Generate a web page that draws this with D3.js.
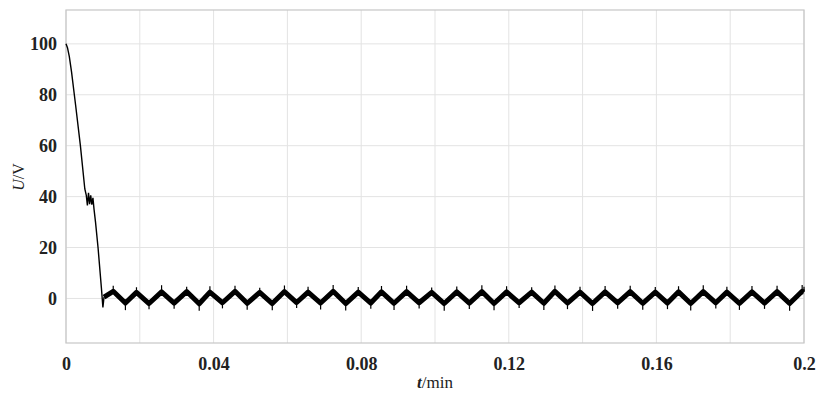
<!DOCTYPE html>
<html>
<head>
<meta charset="utf-8">
<script src="https://cdn.jsdelivr.net/npm/d3@7"></script>
<style>
  body { margin: 0; background: #fff; }
  svg { display: block; }
</style>
</head>
<body>
<div id="chart"></div>
<script>
// start-up drop of the voltage
const decayT = [0, 0.0004, 0.0009, 0.0015, 0.0026, 0.0039, 0.0051, 0.0055, 0.0058, 0.0061, 0.0064, 0.0067, 0.0070, 0.0073, 0.0076, 0.0080, 0.0087, 0.0096, 0.0100, 0.0103];
const decayU = [100, 98.5, 95, 89, 76, 60, 43, 40.5, 36.5, 41.5, 37, 40.5, 36.8, 39.5, 35, 30, 19.7, 4, -3.5, 0.5];

// ripple after the drop: alternating peaks and troughs
const oscT = [0.0128, 0.0161, 0.0191, 0.0225, 0.0259, 0.0293, 0.0327, 0.0361, 0.0390, 0.0424, 0.0458, 0.0491,
  0.0525, 0.0559, 0.0592, 0.0625, 0.0656, 0.0690, 0.0724, 0.0758, 0.0792, 0.0826, 0.0855, 0.0889,
  0.0923, 0.0957, 0.0991, 0.1025, 0.1059, 0.1093, 0.1127, 0.1160, 0.1194, 0.1228, 0.1262, 0.1295,
  0.1325, 0.1359, 0.1393, 0.1427, 0.1461, 0.1495, 0.1529, 0.1563, 0.1597, 0.1630, 0.1660, 0.1693,
  0.1727, 0.1761, 0.1791, 0.1825, 0.1859, 0.1893, 0.1927, 0.1961, 0.1995, 0.2];
const oscU = [2.8, -1.8, 2.4, -2.0, 2.6, -1.8, 2.7, -2.1, 2.5, -1.7, 2.8, -1.9,
  2.4, -2.0, 2.7, -1.6, 2.5, -1.8, 2.8, -2.0, 2.5, -1.8, 2.6, -1.9,
  2.7, -1.7, 2.4, -2.0, 2.6, -1.8, 2.7, -2.0, 2.6, -1.7, 2.5, -1.9,
  2.8, -1.8, 2.5, -2.0, 2.6, -1.7, 2.7, -1.9, 2.5, -1.8, 2.6, -2.0,
  2.7, -1.7, 2.5, -1.9, 2.6, -1.8, 2.7, -2.0, 2.8, 2.5];
// noise spikes at each vertex (extreme value reached)
const oscExt = [5.0, -4.6, 4.4, -4.2, 5.2, -4.0, 4.6, -4.8, 4.8, -3.9, 5.0, -4.4,
  4.2, -4.6, 5.1, -3.8, 4.6, -4.3, 5.3, -4.7, 4.5, -4.0, 4.9, -4.5,
  5.0, -3.9, 4.3, -4.8, 4.7, -4.1, 5.2, -4.6, 4.8, -3.8, 4.4, -4.5,
  5.1, -4.2, 4.6, -4.9, 4.9, -4.0, 5.0, -4.4, 4.5, -4.2, 4.8, -4.7,
  5.2, -3.9, 4.6, -4.5, 4.9, -4.1, 5.0, -4.8, 5.3, 4.6];

const xTicks = [0, 0.04, 0.08, 0.12, 0.16, 0.2];
const xGrid = [0, 0.02, 0.04, 0.06, 0.08, 0.1, 0.12, 0.14, 0.16, 0.18, 0.2];
const yTicks = [0, 20, 40, 60, 80, 100];

const W = 816, H = 398;
const margin = { top: 10, right: 12, bottom: 55, left: 66 };
const serif = "'Liberation Serif', 'Times New Roman', serif";

const svg = d3.select("#chart").append("svg")
  .attr("width", W)
  .attr("height", H);

const x = d3.scaleLinear().domain([0, 0.2]).range([margin.left, W - margin.right]);
const y = d3.scaleLinear().domain([-17.5, 113.3]).range([H - margin.bottom, margin.top]);

// grid
svg.append("g")
  .selectAll("line")
  .data(xGrid)
  .join("line")
  .attr("x1", d => x(d)).attr("x2", d => x(d))
  .attr("y1", y.range()[0]).attr("y2", y.range()[1])
  .attr("stroke", "#e3e3e3").attr("stroke-width", 1);

svg.append("g")
  .selectAll("line")
  .data(yTicks)
  .join("line")
  .attr("x1", x.range()[0]).attr("x2", x.range()[1])
  .attr("y1", d => y(d)).attr("y2", d => y(d))
  .attr("stroke", "#e3e3e3").attr("stroke-width", 1);

// frame
svg.append("rect")
  .attr("x", x.range()[0]).attr("y", y.range()[1])
  .attr("width", x.range()[1] - x.range()[0])
  .attr("height", y.range()[0] - y.range()[1])
  .attr("fill", "none").attr("stroke", "#c6c6c6").attr("stroke-width", 1.2);

// axes (labels only, no tick lines)
const xAxis = svg.append("g")
  .attr("transform", `translate(0,${y.range()[0]})`)
  .call(d3.axisBottom(x).tickValues(xTicks).tickSize(0).tickPadding(14)
    .tickFormat(d => d === 0 ? "0" : d3.format("~g")(d)));
const yAxis = svg.append("g")
  .attr("transform", `translate(${x.range()[0]},0)`)
  .call(d3.axisLeft(y).tickValues(yTicks).tickSize(0).tickPadding(9));

[xAxis, yAxis].forEach(g => {
  g.select(".domain").remove();
  g.selectAll("text")
    .attr("font-family", serif)
    .attr("font-size", 18)
    .attr("font-weight", "bold")
    .attr("fill", "#222");
});

// titles
const xTitle = svg.append("text")
  .attr("x", (x.range()[0] + x.range()[1]) / 2)
  .attr("y", 388)
  .attr("text-anchor", "middle")
  .attr("font-family", serif)
  .attr("font-size", 17)
  .attr("fill", "#222");
xTitle.append("tspan").attr("font-style", "italic").attr("font-weight", "bold").text("t");
xTitle.append("tspan").text("/min");

const yTitle = svg.append("text")
  .attr("transform", "translate(24,177) rotate(-90)")
  .attr("text-anchor", "middle")
  .attr("font-family", serif)
  .attr("font-size", 16)
  .attr("fill", "#222");
yTitle.append("tspan").attr("font-style", "italic").text("U");
yTitle.append("tspan").text("/V");

// curve
const decay = decayT.map((t, i) => ({ t, u: decayU[i] }));
const osc = oscT.map((t, i) => ({ t, u: oscU[i], ext: oscExt[i] }));
const line = d3.line().x(d => x(d.t)).y(d => y(d.u));

svg.append("path")
  .datum(decay)
  .attr("fill", "none")
  .attr("stroke", "#000")
  .attr("stroke-width", 1.4)
  .attr("d", line);

svg.append("path")
  .datum([decay[decay.length - 1]].concat(osc))
  .attr("fill", "none")
  .attr("stroke", "#000")
  .attr("stroke-width", 5)
  .attr("stroke-linejoin", "round")
  .attr("d", line);

svg.append("g")
  .selectAll("line")
  .data(osc)
  .join("line")
  .attr("x1", d => x(d.t)).attr("x2", d => x(d.t))
  .attr("y1", d => y(d.u)).attr("y2", d => y(d.ext))
  .attr("stroke", "#000")
  .attr("stroke-width", 1.2);
</script>
</body>
</html>
